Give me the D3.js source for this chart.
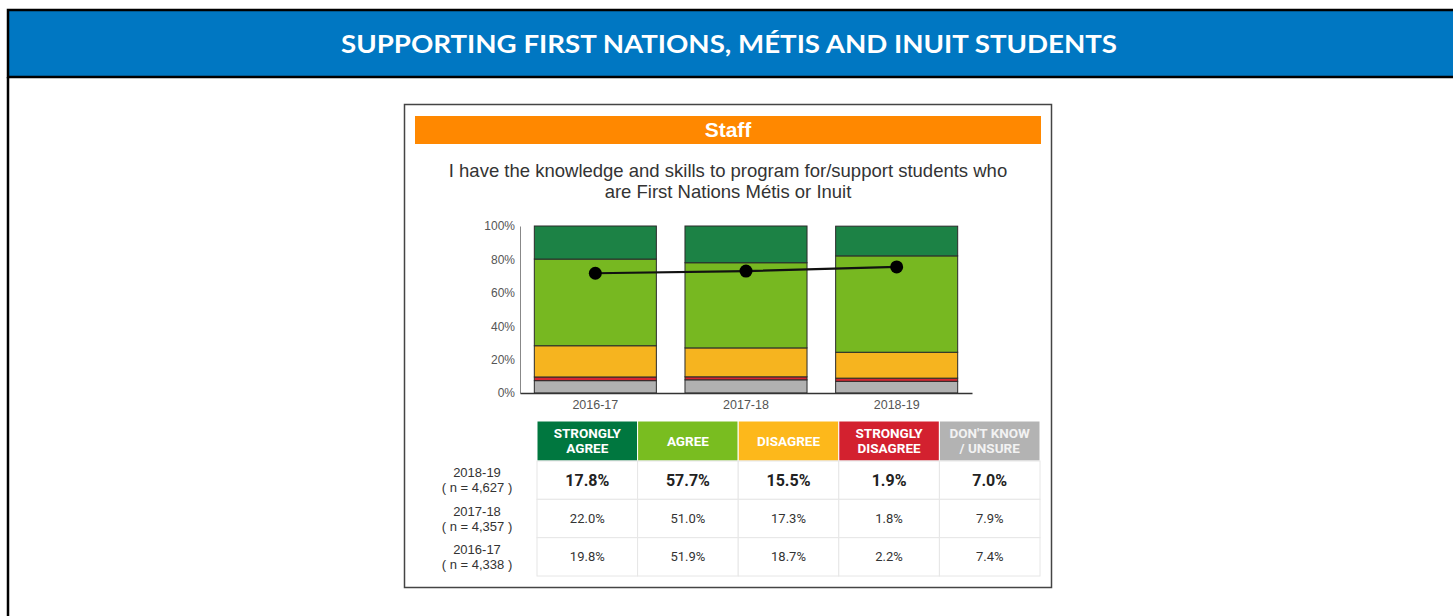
<!DOCTYPE html>
<html>
<head>
<meta charset="utf-8">
<script src="https://cdn.jsdelivr.net/npm/d3@7"></script>
<style>
  html, body { margin: 0; padding: 0; background: #fff; }
  svg { display: block; }
</style>
</head>
<body>
<svg id="chart" width="1453" height="616"></svg>
<script>
// Survey years (chart order, left to right)
const years = ["2016-17", "2017-18", "2018-19"];
// Sample sizes per year
const sampleSizes = ["4,338", "4,357", "4,627"];
// Response categories, bottom of the stack first
const categories = ["unsure", "stronglyDisagree", "disagree", "agree", "stronglyAgree"];
// Percentages per category for each year (same order as years)
const stronglyAgree    = [19.8, 22.0, 17.8];
const agree            = [51.9, 51.0, 57.7];
const disagree         = [18.7, 17.3, 15.5];
const stronglyDisagree = [2.2, 1.8, 1.9];
const unsure           = [7.4, 7.9, 7.0];
// Axis ticks
const yTicks = [0, 20, 40, 60, 80, 100];
// Table header labels (display order)
const tableHeaders = [["STRONGLY", "AGREE"], ["AGREE"], ["DISAGREE"], ["STRONGLY", "DISAGREE"], ["DON'T KNOW", "/ UNSURE"]];

const barColors = {
  stronglyAgree: "#1c8245",
  agree: "#77b821",
  disagree: "#f6b41f",
  stronglyDisagree: "#d62631",
  unsure: "#b1b1b1"
};
const headColors = ["#00773f", "#79bd20", "#fdb81b", "#d3212f", "#b3b3b3"];

const seriesByKey = { stronglyAgree, agree, disagree, stronglyDisagree, unsure };
const rows = years.map((y, i) => {
  const r = { year: y };
  categories.forEach(k => r[k] = seriesByKey[k][i]);
  return r;
});

const svg = d3.select("#chart");

// ---- Page banner ----
svg.append("rect").attr("x", 8).attr("y", 10).attr("width", 1460).attr("height", 67)
  .attr("fill", "#0077c2").attr("stroke", "#000").attr("stroke-width", 2.5);
svg.append("line").attr("x1", 8).attr("x2", 8).attr("y1", 77).attr("y2", 616)
  .attr("stroke", "#000").attr("stroke-width", 2.5);
svg.append("text").attr("x", 729).attr("y", 53).attr("text-anchor", "middle")
  .attr("font-family", "Lato, 'Open Sans', sans-serif").attr("font-weight", 700)
  .attr("font-size", 24).attr("fill", "#fff")
  .attr("textLength", 776).attr("lengthAdjust", "spacingAndGlyphs")
  .text("SUPPORTING FIRST NATIONS, MÉTIS AND INUIT STUDENTS");

// ---- Panel ----
svg.append("rect").attr("x", 404.5).attr("y", 104.5).attr("width", 647).attr("height", 483)
  .attr("fill", "#fff").attr("stroke", "#444").attr("stroke-width", 1.5);
svg.append("rect").attr("x", 415).attr("y", 116).attr("width", 626).attr("height", 28)
  .attr("fill", "#ff8800");
svg.append("text").attr("x", 728).attr("y", 137).attr("text-anchor", "middle")
  .attr("font-family", "Arial, 'Liberation Sans', sans-serif").attr("font-weight", 700)
  .attr("font-size", 21).attr("fill", "#fff").text("Staff");

const q = svg.append("text").attr("text-anchor", "middle")
  .attr("font-family", "Arial, 'Liberation Sans', sans-serif")
  .attr("font-size", 18.5).attr("fill", "#333");
q.append("tspan").attr("x", 728).attr("y", 177).text("I have the knowledge and skills to program for/support students who");
q.append("tspan").attr("x", 728).attr("y", 198).text("are First Nations Métis or Inuit");

// ---- Stacked bar chart ----
const x = d3.scaleBand().domain(years).range([520, 972]).paddingInner(0.19).paddingOuter(0.095);
const y = d3.scaleLinear().domain([0, 100]).range([393, 226]);

const stack = d3.stack().keys(categories)(rows);

svg.append("g").selectAll("g").data(stack).join("g")
  .attr("fill", d => barColors[d.key])
  .selectAll("rect").data(d => d).join("rect")
  .attr("x", d => x(d.data.year))
  .attr("y", d => y(d[1]))
  .attr("width", x.bandwidth())
  .attr("height", d => y(d[0]) - y(d[1]))
  .attr("stroke", "#2a2a2a").attr("stroke-width", 1);

const yAxis = svg.append("g").attr("transform", "translate(520,0)")
  .call(d3.axisLeft(y).tickValues(yTicks).tickSize(0).tickPadding(5).tickFormat(d => d + "%"));
yAxis.select(".domain").attr("stroke", "#888").attr("stroke-width", 1);
yAxis.selectAll("text").attr("font-family", "Arial, 'Liberation Sans', sans-serif")
  .attr("font-size", 12).attr("fill", "#555");

const xAxis = svg.append("g").attr("transform", "translate(0,393)")
  .call(d3.axisBottom(x).tickSize(0).tickPadding(7));
xAxis.select(".domain").attr("stroke", "#333").attr("stroke-width", 1.5);
xAxis.selectAll("text").attr("font-family", "Arial, 'Liberation Sans', sans-serif")
  .attr("font-size", 12.5).attr("fill", "#555");

// Combined agreement line
const agreeTotals = years.map((yr, i) => ({ year: yr, v: agree[i] + stronglyAgree[i] }));
svg.append("path").datum(agreeTotals)
  .attr("fill", "none").attr("stroke", "#111").attr("stroke-width", 2.2)
  .attr("d", d3.line().x(d => x(d.year) + x.bandwidth() / 2).y(d => y(d.v)));
svg.append("g").selectAll("circle").data(agreeTotals).join("circle")
  .attr("cx", d => x(d.year) + x.bandwidth() / 2).attr("cy", d => y(d.v))
  .attr("r", 6.5).attr("fill", "#000");

// ---- Results table ----
const tableOrder = ["stronglyAgree", "agree", "disagree", "stronglyDisagree", "unsure"];
const col = d3.scaleBand().domain(tableOrder).range([537, 1040]);
const headTop = 421, headH = 40;
const rowYears = years.slice().reverse();
const rowTop = d3.scaleBand().domain(rowYears).range([461, 576]);

const head = svg.append("g");
tableOrder.forEach((k, i) => {
  head.append("rect").attr("x", col(k)).attr("y", headTop).attr("width", col.bandwidth())
    .attr("height", headH).attr("fill", headColors[i]).attr("stroke", "#fff").attr("stroke-width", 1);
  const lines = tableHeaders[i];
  const t = head.append("text").attr("text-anchor", "middle")
    .attr("font-family", "Roboto, Arial, sans-serif").attr("font-weight", 700)
    .attr("font-size", 13.5).attr("fill", k === "unsure" ? "#f2f2f2" : "#fff");
  const cx = col(k) + col.bandwidth() / 2;
  if (lines.length === 2) {
    t.append("tspan").attr("x", cx).attr("y", headTop + 17).text(lines[0]);
    t.append("tspan").attr("x", cx).attr("y", headTop + 32).text(lines[1]);
  } else {
    t.append("tspan").attr("x", cx).attr("y", headTop + 25).text(lines[0]);
  }
});

const body = svg.append("g");
rowYears.forEach((yr, ri) => {
  const i = years.indexOf(yr);
  const top = rowTop(yr), h = rowTop.bandwidth();
  const bold = ri === 0;
  tableOrder.forEach(k => {
    body.append("rect").attr("x", col(k)).attr("y", top).attr("width", col.bandwidth()).attr("height", h)
      .attr("fill", "#fff").attr("stroke", "#e6e6e6").attr("stroke-width", 1);
    body.append("text").attr("x", col(k) + col.bandwidth() / 2).attr("y", top + h / 2 + (bold ? 6 : 4.5))
      .attr("text-anchor", "middle")
      .attr("font-family", "Roboto, Arial, sans-serif")
      .attr("font-weight", bold ? 700 : 400)
      .attr("font-size", bold ? 16 : 13).attr("fill", bold ? "#222" : "#333")
      .text(seriesByKey[k][i].toFixed(1) + "%");
  });
  const lab = body.append("text").attr("text-anchor", "middle")
    .attr("font-family", "Arial, 'Liberation Sans', sans-serif").attr("font-size", 13).attr("fill", "#333");
  lab.append("tspan").attr("x", 477).attr("y", top + h / 2 - 3).text(yr);
  lab.append("tspan").attr("x", 477).attr("y", top + h / 2 + 12).text("( n = " + sampleSizes[i] + " )");
});
</script>
</body>
</html>
